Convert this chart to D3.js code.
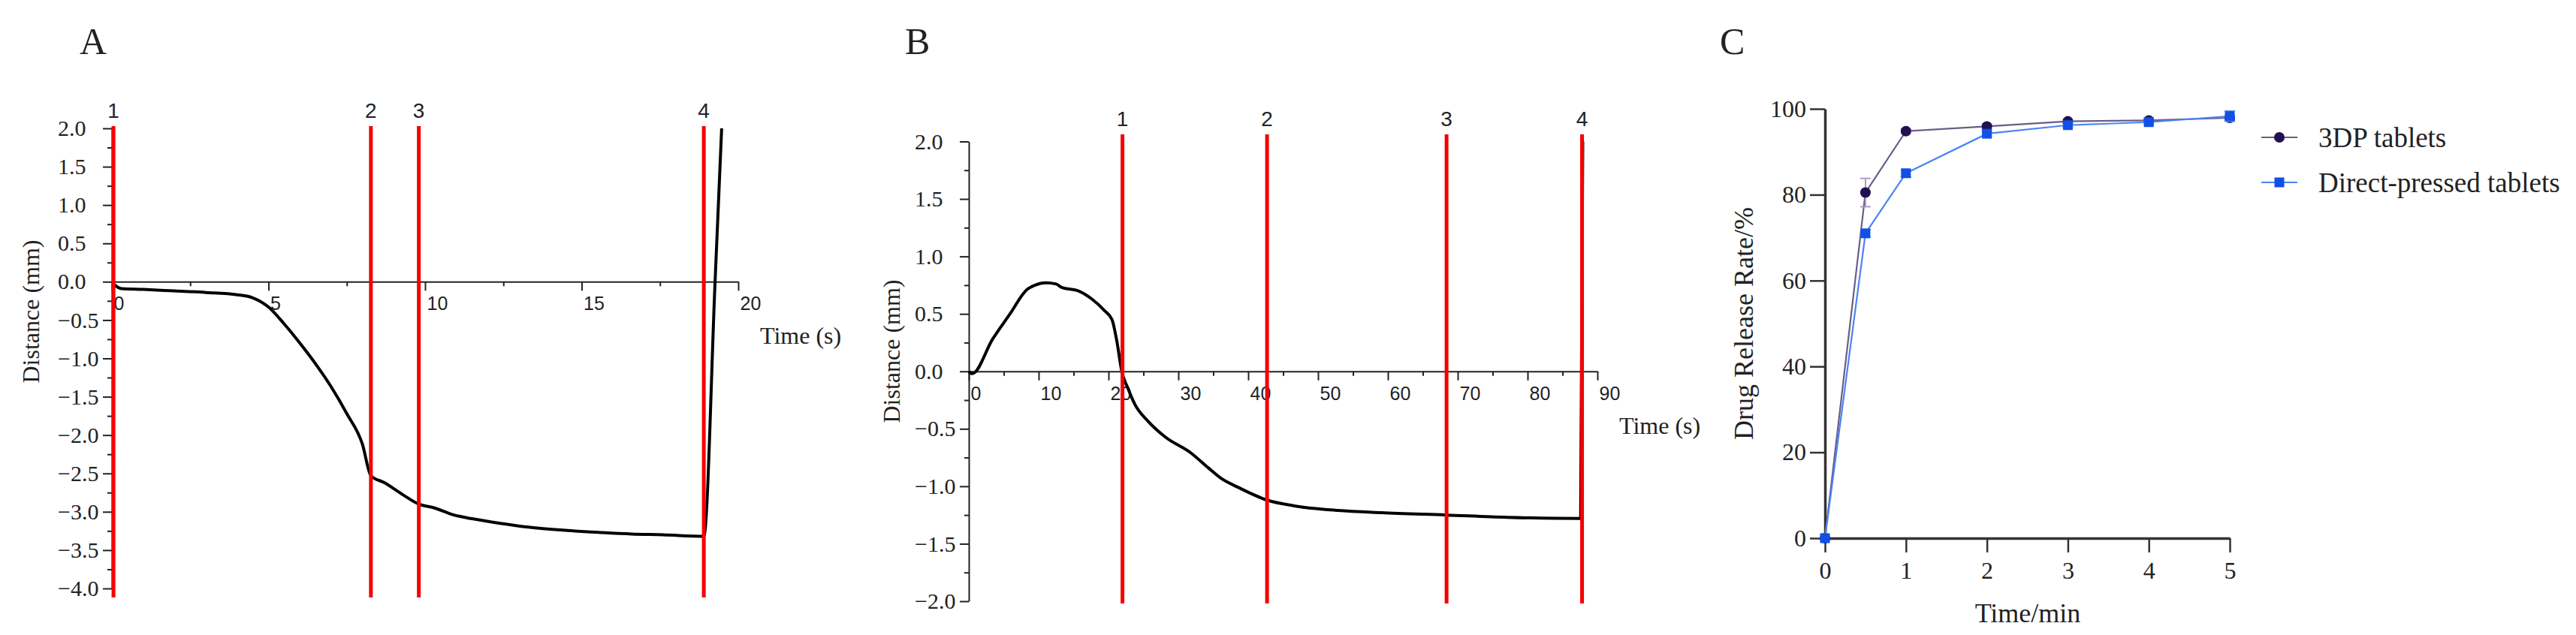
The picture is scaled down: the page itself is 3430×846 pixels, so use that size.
<!DOCTYPE html>
<html lang="en">
<head>
<meta charset="UTF-8">
<title>Distance and drug release</title>
<script src="https://cdn.jsdelivr.net/npm/d3@7"></script>
<style>
  body { margin: 0; background: #fff; }
  svg { display: block; }
  .serif { font-family: "Liberation Serif", "Times New Roman", serif; fill: #222; }
  .sans { font-family: "Liberation Sans", Arial, sans-serif; fill: #222; }
</style>
</head>
<body>
<div id="chart"></div>
<script>
// panel A: displacement vs time
var timeA = [0.05, 0.3, 1.0, 2.0, 3.0, 4.0, 4.5, 5.0, 5.5, 6.0, 6.5, 7.0, 7.5, 8.0, 8.27, 8.7, 9.3, 9.8, 10.3, 10.9, 11.5, 12.4, 13.3, 14.4, 15.6, 16.6, 17.6, 18.9, 19.26, 19.47];
var distA = [-0.03, -0.09, -0.1, -0.12, -0.14, -0.17, -0.21, -0.33, -0.55, -0.8, -1.07, -1.37, -1.72, -2.12, -2.53, -2.62, -2.78, -2.9, -2.95, -3.04, -3.09, -3.15, -3.2, -3.24, -3.27, -3.29, -3.3, -3.32, 0, 2.0];
var markersA = [0.05, 8.27, 9.8, 18.9];

// panel B
var timeB = [0, 0.5, 3.4, 5.9, 8.3, 9.5, 11, 12.5, 13.3, 15.7, 17.6, 19.4, 20.5, 21.2, 21.9, 22.8, 23.8, 25.6, 28.1, 31.8, 34.3, 36.1, 38.6, 42.7, 46.6, 52.8, 59, 68.3, 77, 87.6, 87.9];
var distB = [0, -0.02, 0.28, 0.5, 0.71, 0.75, 0.77, 0.76, 0.73, 0.70, 0.63, 0.53, 0.45, 0.26, 0, -0.15, -0.29, -0.43, -0.57, -0.71, -0.84, -0.93, -1.01, -1.12, -1.17, -1.21, -1.23, -1.25, -1.27, -1.28, 2.0];
var markersB = [22, 42.7, 68.4, 87.8];

var markerLabels = ["1", "2", "3", "4"];

// panel C: release profile
var releaseTimes = [0, 0.5, 1, 2, 3, 4, 5];
var release3DP = [0, 80.5, 94.8, 95.9, 97.1, 97.3, 97.9];
var release3DPErr = [0, 3.3, 0.5, 0.6, 0.5, 0.5, 0.6];
var releaseDirect = [0, 71.0, 85.0, 94.2, 96.2, 96.9, 98.3];
var releaseDirectErr = [0, 0.8, 0.8, 0.6, 0.5, 0.5, 1.2];
var seriesNames = ["3DP tablets", "Direct-pressed tablets"];
var xTicksC = [0, 1, 2, 3, 4, 5];
var yTicksC = [0, 20, 40, 60, 80, 100];

var width = 3430, height = 846;
var red = "#f50000";

var svg = d3.select("#chart").append("svg")
    .attr("width", width)
    .attr("height", height);
svg.append("rect").attr("width", width).attr("height", height).attr("fill", "#fff");

var fmt = function(d) { return d3.format(".1f")(d).replace("-", "\u2212"); };

function distancePanel(p) {
    var x = d3.scaleLinear().domain(p.xDomain).range(p.xRange);
    var y = d3.scaleLinear().domain(p.yDomain).range(p.yRange);
    var g = svg.append("g");

    // y axis, major + minor ticks
    var yMajor = d3.range(p.yDomain[0], p.yDomain[1] + 0.01, 0.5);
    var yMinor = d3.range(p.yDomain[0] + 0.25, p.yDomain[1], 0.5);
    var ya = g.append("g").attr("transform", "translate(" + x(0) + ",0)")
        .call(d3.axisLeft(y).tickValues(yMajor).tickSize(12).tickSizeOuter(0).tickFormat(fmt));
    ya.selectAll("text").attr("class", "serif").attr("text-anchor", "start")
        .attr("x", -72).style("font-size", "30px");
    g.append("g").attr("transform", "translate(" + x(0) + ",0)")
        .call(d3.axisLeft(y).tickValues(yMinor).tickSize(6).tickFormat(""))
        .select(".domain").remove();

    // x axis through zero
    var xa = g.append("g").attr("transform", "translate(0," + y(0) + ")")
        .call(d3.axisBottom(x).tickValues(p.xMajor).tickSize(12).tickSizeOuter(0));
    xa.selectAll("text").attr("class", "sans").attr("text-anchor", "start")
        .attr("x", 2).attr("y", 20).style("font-size", "25px");
    g.append("g").attr("transform", "translate(0," + y(0) + ")")
        .call(d3.axisBottom(x).tickValues(p.xMinor).tickSize(6).tickFormat(""))
        .select(".domain").remove();
    g.selectAll(".domain, .tick line").attr("stroke", "#222").attr("stroke-width", 2);

    // curve
    var line = d3.line().x(function(d) { return x(d[0]); }).y(function(d) { return y(d[1]); })
        .curve(d3.curveMonotoneX);
    g.append("path").datum(d3.zip(p.time, p.dist))
        .attr("d", line).attr("fill", "none").attr("stroke", "#000")
        .attr("stroke-width", 4).attr("stroke-linejoin", "round");

    // red markers
    g.selectAll(".mark").data(p.markers).enter().append("line")
        .attr("x1", function(d) { return x(d); }).attr("x2", function(d) { return x(d); })
        .attr("y1", p.markTop).attr("y2", p.markBottom)
        .attr("stroke", red).attr("stroke-width", 5);
    g.selectAll(".mlab").data(p.markers).enter().append("text")
        .attr("class", "sans")
        .attr("x", function(d) { return x(d); }).attr("y", p.markTop - 11)
        .attr("text-anchor", "middle").style("font-size", "28px")
        .text(function(d, i) { return markerLabels[i]; });

    // labels
    g.append("text").attr("class", "serif")
        .attr("x", p.xRange[1] + 29).attr("y", y(0) + 83)
        .style("font-size", "32px").text("Time (s)");
    g.append("text").attr("class", "serif")
        .attr("transform", "translate(" + p.yLabelX + "," + p.yLabelY + ") rotate(-90)")
        .attr("text-anchor", "middle").attr("dy", "0.35em")
        .style("font-size", "32px").text("Distance (mm)");
    g.append("text").attr("class", "serif")
        .attr("x", p.letterX).attr("y", 72)
        .style("font-size", "50px").text(p.letter);
}

distancePanel({
    letter: "A", letterX: 106,
    xDomain: [0, 20], xRange: [149, 983],
    yDomain: [-4, 2], yRange: [784, 171],
    xMajor: [0, 5, 10, 15, 20], xMinor: [2.5, 7.5, 12.5, 17.5],
    time: timeA, dist: distA, markers: markersA,
    markTop: 168, markBottom: 796,
    yLabelX: 41, yLabelY: 415
});

distancePanel({
    letter: "B", letterX: 1205,
    xDomain: [0, 90], xRange: [1290, 2127],
    yDomain: [-2, 2], yRange: [801, 188.5],
    xMajor: d3.range(0, 91, 10), xMinor: d3.range(5, 90, 10),
    time: timeB, dist: distB, markers: markersB,
    markTop: 179, markBottom: 804,
    yLabelX: 1187, yLabelY: 468
});

// panel C
(function() {
    var x = d3.scaleLinear().domain([0, 5]).range([2430, 2969]);
    var y = d3.scaleLinear().domain([0, 100]).range([717, 145]);
    var g = svg.append("g");

    var xa = g.append("g").attr("transform", "translate(0," + y(0) + ")")
        .call(d3.axisBottom(x).tickValues(xTicksC).tickFormat(d3.format("d"))
            .tickSize(19).tickSizeOuter(0).tickPadding(12));
    xa.selectAll("text").attr("class", "serif").style("font-size", "32px");
    var ya = g.append("g").attr("transform", "translate(" + x(0) + ",0)")
        .call(d3.axisLeft(y).tickValues(yTicksC).tickFormat(d3.format("d"))
            .tickSize(20).tickSizeOuter(0).tickPadding(5));
    ya.selectAll("text").attr("class", "serif").style("font-size", "32px");
    g.selectAll(".domain").attr("stroke", "#333").attr("stroke-width", 3.5);
    g.selectAll(".tick line").attr("stroke", "#333").attr("stroke-width", 2.5);

    var series = [
        { name: seriesNames[0], vals: release3DP, err: release3DPErr, line: "#6a5d88", fill: "#211050", errColor: "#a396c4", shape: "circle" },
        { name: seriesNames[1], vals: releaseDirect, err: releaseDirectErr, line: "#4a84f2", fill: "#1050e8", errColor: "#5b8ef0", shape: "square" }
    ];

    var line = d3.line().x(function(d) { return x(d[0]); }).y(function(d) { return y(d[1]); });

    series.forEach(function(s, k) {
        var pts = d3.zip(releaseTimes, s.vals, s.err);
        g.append("path").datum(pts).attr("d", line)
            .attr("fill", "none").attr("stroke", s.line).attr("stroke-width", 2.2);

        var eb = g.selectAll(".eb" + k).data(pts.filter(function(d) { return d[2] > 0; })).enter().append("g")
            .attr("stroke", s.errColor).attr("stroke-width", 1.8);
        eb.append("line").attr("x1", function(d) { return x(d[0]); }).attr("x2", function(d) { return x(d[0]); })
            .attr("y1", function(d) { return y(d[1] - d[2]); }).attr("y2", function(d) { return y(d[1] + d[2]); });
        eb.append("line").attr("x1", function(d) { return x(d[0]) - 7; }).attr("x2", function(d) { return x(d[0]) + 7; })
            .attr("y1", function(d) { return y(d[1] + d[2]); }).attr("y2", function(d) { return y(d[1] + d[2]); });
        eb.append("line").attr("x1", function(d) { return x(d[0]) - 7; }).attr("x2", function(d) { return x(d[0]) + 7; })
            .attr("y1", function(d) { return y(d[1] - d[2]); }).attr("y2", function(d) { return y(d[1] - d[2]); });

        if (s.shape == "circle") {
            g.selectAll(".pt" + k).data(pts).enter().append("circle")
                .attr("cx", function(d) { return x(d[0]); }).attr("cy", function(d) { return y(d[1]); })
                .attr("r", 7).attr("fill", s.fill);
        } else {
            g.selectAll(".pt" + k).data(pts).enter().append("rect")
                .attr("x", function(d) { return x(d[0]) - 6.5; }).attr("y", function(d) { return y(d[1]) - 6.5; })
                .attr("width", 13).attr("height", 13).attr("fill", s.fill);
        }

        // legend
        var ly = 183 + k * 60;
        g.append("line").attr("x1", 3011).attr("x2", 3059).attr("y1", ly).attr("y2", ly)
            .attr("stroke", s.line).attr("stroke-width", 2.2);
        if (s.shape == "circle") {
            g.append("circle").attr("cx", 3035).attr("cy", ly).attr("r", 7).attr("fill", s.fill);
        } else {
            g.append("rect").attr("x", 3028.5).attr("y", ly - 6.5).attr("width", 13).attr("height", 13).attr("fill", s.fill);
        }
        g.append("text").attr("class", "serif").attr("x", 3087).attr("y", ly).attr("dy", "0.35em")
            .style("font-size", "37px").text(s.name);
    });

    g.append("text").attr("class", "serif").attr("x", 2700).attr("y", 829)
        .attr("text-anchor", "middle").style("font-size", "36px").text("Time/min");
    g.append("text").attr("class", "serif")
        .attr("transform", "translate(2321,431) rotate(-90)")
        .attr("text-anchor", "middle").attr("dy", "0.35em")
        .style("font-size", "36px").text("Drug Release Rate/%");
    g.append("text").attr("class", "serif").attr("x", 2290).attr("y", 72)
        .style("font-size", "50px").text("C");
})();
</script>
</body>
</html>
